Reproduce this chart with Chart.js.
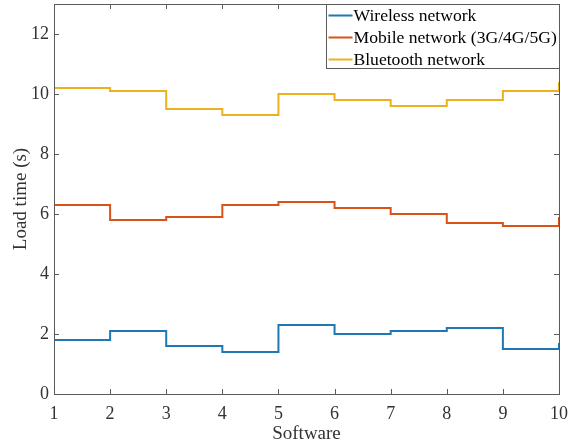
<!DOCTYPE html>
<html>
<head>
<meta charset="utf-8">
<script src="https://cdn.jsdelivr.net/npm/chart.js@4"></script>
<style>
  html, body { margin: 0; padding: 0; background: #fff; }
  #wrap { width: 568px; height: 448px; }
</style>
</head>
<body>
<div id="wrap"><canvas id="c" width="568" height="448"></canvas></div>
<script>
// software index (x axis)
const software = [1, 2, 3, 4, 5, 6, 7, 8, 9, 10];

// load times in seconds
const wireless  = [1.8, 2.1, 1.6, 1.4, 2.3, 2.0, 2.1, 2.2, 1.5, 1.7];
const mobile    = [6.3, 5.8, 5.9, 6.3, 6.4, 6.2, 6.0, 5.7, 5.6, 5.9];
const bluetooth = [10.2, 10.1, 9.5, 9.3, 10.0, 9.8, 9.6, 9.8, 10.1, 10.4];

const seriesNames = ["Wireless network", "Mobile network (3G/4G/5G)", "Bluetooth network"];
const seriesColors = ["#1f77b4", "#D95319", "#EDB120"];

const FONT = "'Liberation Serif', 'Times New Roman', serif";
const AXIS_COLOR = "#333333";

function toPoints(vals) {
    return software.map((x, i) => ({ x: x, y: vals[i] }));
}

// ticks pointing inward + box frame, MATLAB style
const frameTicks = {
    id: "frameTicks",
    afterDraw(chart) {
        const ctx = chart.ctx;
        const a = chart.chartArea;
        const xs = chart.scales.x, ys = chart.scales.y;
        const len = 5;
        ctx.save();
        ctx.strokeStyle = "#5a5a5a";
        ctx.lineWidth = 1;
        ctx.beginPath();
        xs.ticks.forEach(t => {
            const px = Math.round(xs.getPixelForValue(t.value)) + 0.5;
            ctx.moveTo(px, a.bottom); ctx.lineTo(px, a.bottom - len);
            ctx.moveTo(px, a.top); ctx.lineTo(px, a.top + len);
        });
        ys.ticks.forEach(t => {
            const py = Math.round(ys.getPixelForValue(t.value)) + 0.5;
            ctx.moveTo(a.left, py); ctx.lineTo(a.left + len, py);
            ctx.moveTo(a.right, py); ctx.lineTo(a.right - len, py);
        });
        ctx.stroke();
        ctx.strokeRect(Math.round(a.left) + 0.5, Math.round(a.top) + 0.5,
            Math.round(a.right - a.left), Math.round(a.bottom - a.top));
        ctx.restore();
    }
};

// legend box in the upper right corner of the axes
const boxLegend = {
    id: "boxLegend",
    afterDraw(chart) {
        const ctx = chart.ctx;
        const a = chart.chartArea;
        const w = 233, h = 64, lineH = 22;
        const x0 = Math.round(a.right - w) + 0.5;
        const y0 = Math.round(a.top) + 0.5;
        ctx.save();
        ctx.fillStyle = "#fff";
        ctx.fillRect(x0, y0, w, h);
        ctx.strokeStyle = "#5a5a5a";
        ctx.lineWidth = 1;
        ctx.strokeRect(x0, y0, w, h);
        ctx.font = "17.6px " + FONT;
        ctx.textBaseline = "middle";
        chart.data.datasets.forEach((ds, i) => {
            const cy = y0 + 11 + i * lineH;
            ctx.strokeStyle = ds.borderColor;
            ctx.lineWidth = 2;
            ctx.beginPath();
            ctx.moveTo(x0 + 2, cy);
            ctx.lineTo(x0 + 26, cy);
            ctx.stroke();
            ctx.fillStyle = "#000";
            ctx.fillText(ds.label, x0 + 27, cy + 1);
        });
        ctx.restore();
    }
};

const datasets = [wireless, mobile, bluetooth].map((vals, i) => ({
    label: seriesNames[i],
    data: toPoints(vals),
    borderColor: seriesColors[i],
    backgroundColor: seriesColors[i],
    borderWidth: 2,
    pointRadius: 0,
    stepped: true,
    fill: false
}));

new Chart(document.getElementById("c").getContext("2d"), {
    type: "line",
    data: { datasets },
    options: {
        responsive: false,
        animation: false,
        layout: { padding: { left: 0, right: 9, top: 4, bottom: 0 } },
        plugins: {
            legend: { display: false },
            tooltip: { enabled: false }
        },
        scales: {
            x: {
                type: "linear",
                min: 1,
                max: 10,
                grid: { display: false, drawTicks: false },
                border: { display: false },
                ticks: {
                    stepSize: 1,
                    padding: 9,
                    color: AXIS_COLOR,
                    font: { family: FONT, size: 18 },
                    maxRotation: 0
                },
                title: {
                    display: true,
                    text: "Software",
                    color: AXIS_COLOR,
                    font: { family: FONT, size: 19 },
                    padding: { top: 0, bottom: 3 }
                },
                afterFit(scale) {
                    scale.height = 54;
                    scale.paddingLeft = 0;
                    scale.paddingRight = 0;
                }
            },
            y: {
                min: 0,
                max: 13,
                grid: { display: false, drawTicks: false },
                border: { display: false },
                ticks: {
                    stepSize: 2,
                    includeBounds: false,
                    padding: 5,
                    color: AXIS_COLOR,
                    font: { family: FONT, size: 18 }
                },
                title: {
                    display: true,
                    text: "Load time (s)",
                    color: AXIS_COLOR,
                    font: { family: FONT, size: 19 },
                    padding: { top: 10, bottom: 0 }
                },
                afterFit(scale) {
                    scale.width = 54;
                    scale.paddingTop = 0;
                    scale.paddingBottom = 0;
                }
            }
        }
    },
    plugins: [frameTicks, boxLegend]
});
</script>
</body>
</html>
